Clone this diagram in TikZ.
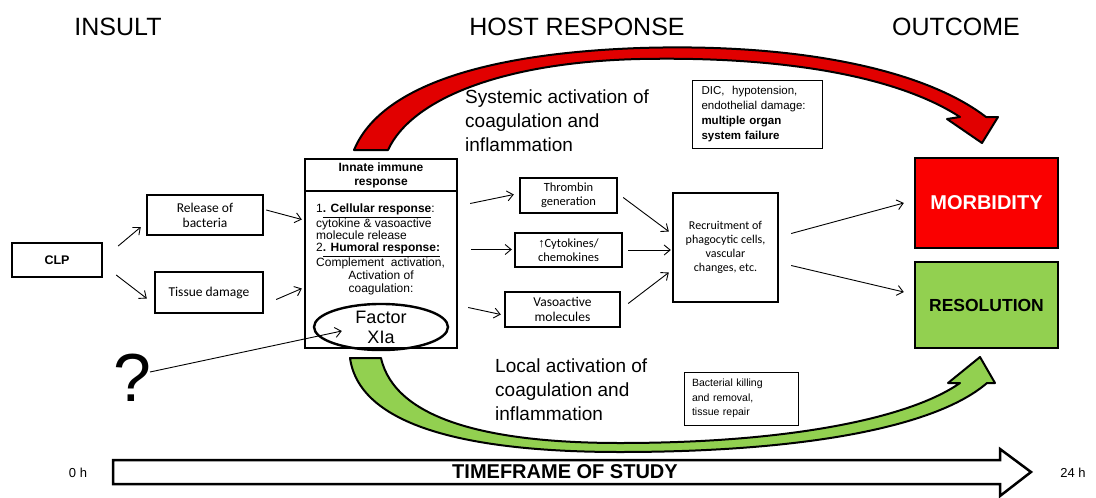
\documentclass[tikz,border=0pt]{standalone}
\usepackage{fontspec}
\setmainfont{Liberation Sans}
\newfontfamily\calfont{Carlito}
\usetikzlibrary{arrows.meta,shapes.geometric,calc}
\newcommand{\fsz}[2]{\fontsize{#1}{#2}\selectfont}
\definecolor{mred}{RGB}{250,0,0}
\definecolor{ared}{RGB}{225,0,0}
\definecolor{mgreen}{RGB}{146,208,80}
\begin{document}
\begin{tikzpicture}[x=1pt,y=-1pt,
  box/.style={draw, line width=2.4pt, align=center, inner sep=1pt, fill=white},
  conn/.style={draw, line width=0.9pt, -{Straight Barb[length=6pt,width=10pt]}},
  hdr/.style={font=\fsz{25}{30}},
  lbl/.style={align=left, inner sep=0pt}]
\useasboundingbox (0,0) rectangle (1096,498);

% headers
\node[hdr] (hins) at (118,27) {INSULT};
\node[hdr] (hhost) at (577,27) {HOST RESPONSE};
\node[hdr] (hout) at (956,27) {OUTCOME};

% red curved arrow
\draw[line width=2pt, fill=ared, line join=round]
  (354,150) .. controls (378,92) and (470,54) .. (640,48)
  .. controls (800,43) and (925,70) .. (986,117)
  -- (998,117) -- (982,143) -- (947,119) -- (960,117)
  .. controls (900,78) and (790,56) .. (640,59)
  .. controls (505,62) and (412,98) .. (388,150) -- cycle;

% green curved arrow
\draw[line width=2pt, fill=mgreen, line join=round]
  (350,358) .. controls (360,430) and (480,452) .. (620,452)
  .. controls (800,452) and (935,428) .. (987,383)
  -- (995,383) -- (980,357) -- (948,383) -- (960,383)
  .. controls (910,418) and (790,443) .. (620,443)
  .. controls (490,443) and (395,420) .. (381,358) -- cycle;

% timeframe arrow
\draw[line width=2.5pt, fill=white, line join=miter]
  (113,460) -- (1000,460) -- (1000,449) -- (1031,472) -- (1000,496)
  -- (1000,484) -- (113,484) -- cycle;
\node[font=\bfseries\fsz{20}{24}] (tf) at (565,472) {TIMEFRAME OF STUDY};
\node[font=\fsz{13}{15}] (t0) at (78,473) {0 h};
\node[font=\fsz{13}{15}] (t24) at (1073,473) {24 h};

% insult boxes
\node[box, minimum width=90, minimum height=34, font=\bfseries\fsz{12.5}{14}] (clp) at (57,260) {CLP};
\node[box, minimum width=116, minimum height=40, font=\calfont\fsz{13.5}{15}] (rel) at (205,215) {Release of\\bacteria};
\node[box, minimum width=108, minimum height=41, font=\calfont\fsz{13.5}{15}] (tis) at (209,292.5) {Tissue damage};

% innate immune box
\node[box, minimum width=152, minimum height=189] (innate) at (381,253.5) {};
\draw[line width=2.4pt] ($(innate.north west)+(0,33)$) -- ($(innate.north east)+(0,33)$);
\node[font=\bfseries\fsz{12}{14}, align=center] (inh) at (381,175.5) {Innate immune\\response};
\node[lbl, anchor=north west, font=\fsz{12}{12.4}] (inb) at (316,204) {%
1\underline{\textbf{. Cellular response}}:\\
cytokine \& vasoactive\\
molecule release\\
2\underline{\textbf{. Humoral response:}}\\
Complement~ activation,};
\node[align=center, inner sep=0pt, font=\fsz{12}{13.5}] (inc) at (381,283) {Activation of\\coagulation:};
\node[draw, ellipse, line width=2.4pt, minimum width=134, minimum height=42, inner sep=0pt,
      align=center, font=\fsz{18}{20}] (fxi) at (381,327) {Factor\\XIa};

% question mark
\node[font=\fsz{68}{70}] (q) at (132,378) {?};
\coordinate (qtail) at (150,372);
\draw[conn] (qtail) -- ($(fxi.west)+(29,4)$);

% host response middle boxes
\node[box, minimum width=97, minimum height=35, font=\calfont\fsz{12.5}{14}] (thr) at (568.5,195.5) {Thrombin\\generation};
\node[box, minimum width=107, minimum height=34, font=\calfont\fsz{12.5}{14}] (cyt) at (568.5,250) {{\rmfamily ↑}Cytokines/\\chemokines};
\node[box, minimum width=115, minimum height=35, font=\calfont\fsz{13.5}{14.5}] (vaso) at (562.5,309.5) {Vasoactive\\molecules};
\node[box, minimum width=105, minimum height=109, font=\calfont\fsz{12}{14}] (rec) at (725.5,247.5) {Recruitment of\\phagocytic cells,\\vascular\\changes, etc.};

% outcome boxes
\node[box, fill=mred, minimum width=143, minimum height=90, text=white, font=\bfseries\fsz{20}{24}] (mor) at (986.5,203) {MORBIDITY};
\node[box, fill=mgreen, minimum width=143, minimum height=86, font=\bfseries\fsz{17.5}{21}] (res) at (986.5,305) {RESOLUTION};

% annotation boxes
\node[draw, line width=0.8pt, fill=white, text width=112, inner xsep=9pt, minimum height=68, align=left,
      font=\fsz{11.5}{15}] (dic) at (757.5,114) {DIC,~ hypotension,\\endothelial damage:\\\textbf{multiple organ}\\\textbf{system failure}};
\node[draw, line width=0.8pt, fill=white, text width=98, inner xsep=8pt, minimum height=53, align=left,
      font=\fsz{10.5}{14.5}] (bac) at (741,398.5) {Bacterial killing\\and removal,\\tissue repair};

% big labels
\node[lbl, anchor=west, font=\fsz{19}{24}] (sys) at (465,121) {Systemic activation of\\coagulation and\\inflammation};
\node[lbl, anchor=west, font=\fsz{19}{24}] (loc) at (495,390) {Local activation of\\coagulation and\\inflammation};

% connectors
\draw[conn] ($(clp.east)+(15,-14)$) -- ($(rel.west)+(-5,12)$);
\draw[conn] ($(clp.east)+(13,15)$) -- ($(tis.west)+(-7,6)$);
\draw[conn] ($(rel.east)+(2,-5)$) -- ($(innate.west)+(-2,-34)$);
\draw[conn] ($(tis.east)+(12,7)$) -- ($(innate.west)+(-2,35)$);
\draw[conn] ($(innate.east)+(12,-50)$) -- ($(thr.west)+(-5,-1)$);
\draw[conn] ($(innate.east)+(13,-4)$) -- ($(cyt.west)+(-2,-0.5)$);
\draw[conn] ($(innate.east)+(10,54)$) -- ($(vaso.west)+(-3,5)$);
\draw[conn] ($(thr.east)+(5,2)$) -- ($(rec.west)+(-3,-16)$);
\draw[conn] ($(cyt.east)+(5,0)$) -- ($(rec.west)+(-1,2.5)$);
\draw[conn] ($(vaso.east)+(7,-6)$) -- ($(rec.west)+(-3,25)$);
\draw[conn] ($(rec.east)+(12,-14)$) -- ($(mor.west)+(-10,0)$);
\draw[conn] ($(rec.east)+(12,18)$) -- ($(res.west)+(-10,-13)$);
\end{tikzpicture}
\end{document}
